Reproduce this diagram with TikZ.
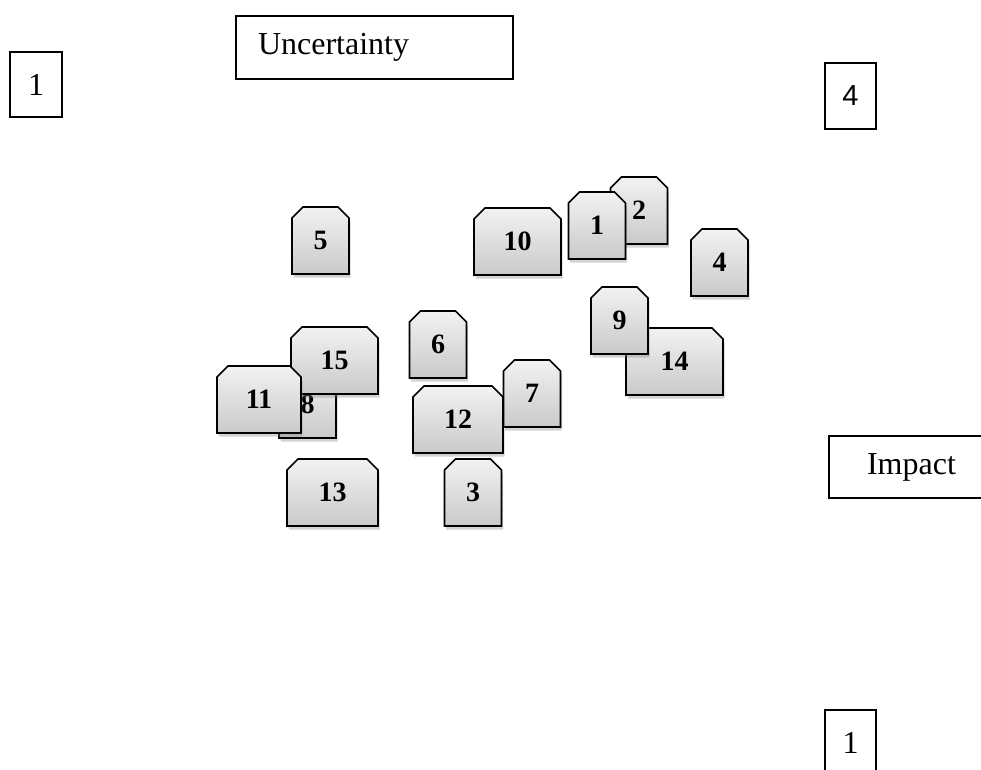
\documentclass[tikz,border=0pt]{standalone}
\usepackage{fontspec}
\setmainfont{Liberation Serif}
\newfontfamily\arialfont{Liberation Sans}
\usetikzlibrary{shapes.misc,shadows}
\tikzset{
  axisbox/.style = {rectangle, draw=black, line width=1.3pt, inner sep=0pt,
    font=\fontsize{32}{37}\selectfont},% boite d'axe
  riskbox/.style = {chamfered rectangle,
    chamfered rectangle corners={north west, north east},
    chamfered rectangle xsep=5.5pt, chamfered rectangle ysep=5.5pt,
    draw=black, line width=1.6pt, inner sep=0pt,
    top color=gray!10, bottom color=gray!42,
    drop shadow={shadow xshift=1.5pt, shadow yshift=-3.5pt, opacity=0.35},
    font=\fontsize{28}{32}\selectfont\bfseries},% risque
  narrow/.style = {riskbox, minimum width=57pt, minimum height=67pt},
  wide/.style = {riskbox, minimum width=#1, minimum height=67pt}
}

\begin{document}
\begin{tikzpicture}[x=1pt,y=-1pt]
\useasboundingbox (0,0) rectangle (981,769);
% axes
\node [axisbox, minimum width=52pt, minimum height=65pt] (umin) at (36,84.5) {1};
\node [axisbox, minimum height=63pt, text width=233pt, inner xsep=22pt,
  align=left] (unc) at (374.5,47.5) {Uncertainty};
\node [axisbox, minimum width=51pt, minimum height=66pt,
  font=\fontsize{29}{34}\selectfont\arialfont] (umax) at (850.5,96) {4};
\node [axisbox, minimum width=165pt, minimum height=62pt] (imp) at (911.5,467) {Impact};
\node [axisbox, minimum width=51pt, minimum height=65pt] (imin) at (850.5,742.5) {1};
% risques
\node [narrow] (r5) at (320.5,240.5) {5};
\node [wide=87pt] (r10) at (517.5,241.5) {10};
\node [narrow] (r2) at (639,210.5) {2};
\node [narrow] (r1) at (597,225.5) {1};
\node [narrow] (r4) at (719.5,262.5) {4};
\node [narrow] (r6) at (438,344.5) {6};
\node [wide=97pt] (r14) at (674.5,361.5) {14};
\node [narrow] (r9) at (619.5,320.5) {9};
\node [narrow] (r8) at (307.5,404.5) {8};
\node [wide=87pt] (r15) at (334.5,360.5) {15};
\node [wide=84pt] (r11) at (259,399.5) {11};
\node [narrow] (r7) at (532,393.5) {7};
\node [wide=90pt] (r12) at (458,419.5) {12};
\node [wide=91pt] (r13) at (332.5,492.5) {13};
\node [narrow] (r3) at (473,492.5) {3};
\end{tikzpicture}
\end{document}
